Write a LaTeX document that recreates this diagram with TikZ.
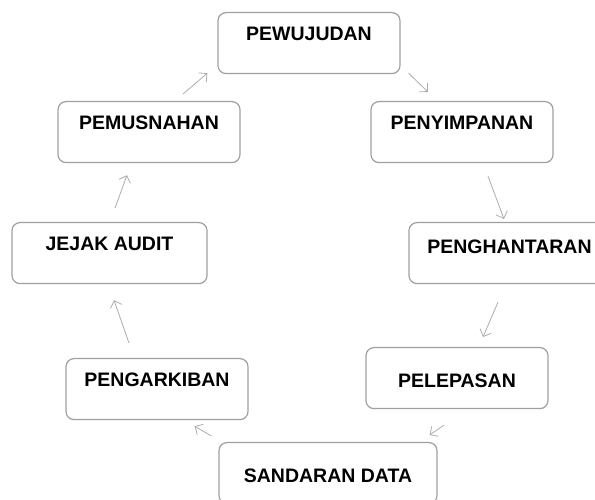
\documentclass[tikz,border=0pt]{standalone}
\usepackage{fontspec}
\setmainfont{Liberation Sans}
\usetikzlibrary{arrows.meta}
\begin{document}
\begin{tikzpicture}[x=1pt,y=1pt,
  tahap/.style={draw=gray!75, line width=1.2pt, rounded corners=8pt, anchor=north,
    inner xsep=0pt, inner ysep=0pt, text height=28pt, text depth=33pt,
    font=\fontsize{19.5}{20}\selectfont\bfseries, minimum width=182pt},
  rendah/.style={text height=40pt, text depth=21pt},
  aliran/.style={draw=gray!65, line width=0.8pt, -{Straight Barb[length=6pt,width=12pt]}}]

\useasboundingbox (0,0) rectangle (595,500);

\node[tahap] (pewujudan) at (309,488) {PEWUJUDAN};
\node[tahap] (penyimpanan) at (462,399) {PENYIMPANAN};
\node[tahap, minimum width=201pt, text height=31pt, text depth=30pt] (penghantaran) at (509.5,278) {PENGHANTARAN};
\node[tahap, rendah] (pelepasan) at (457,153) {PELEPASAN};
\node[tahap, rendah, minimum width=218pt] (sandaran) at (328,58) {SANDARAN DATA};
\node[tahap] (pengarkiban) at (157,142) {PENGARKIBAN};
\node[tahap, minimum width=195pt] (jejak) at (109.5,278) {JEJAK AUDIT};
\node[tahap] (pemusnahan) at (149,399) {PEMUSNAHAN};


\draw[aliran] ([xshift=34pt,yshift=7pt]pemusnahan.north) -- ([xshift=-10pt,yshift=1pt]pewujudan.south west);
\draw[aliran] ([xshift=8pt,yshift=1pt]pewujudan.south east) -- ([xshift=-34pt,yshift=9pt]penyimpanan.north);
\draw[aliran] ([xshift=26pt,yshift=-13pt]penyimpanan.south) -- ([xshift=-5.5pt,yshift=3pt]penghantaran.north);
\draw[aliran] ([xshift=-11.5pt,yshift=-18pt]penghantaran.south) -- ([xshift=26pt,yshift=10pt]pelepasan.north);
\draw[aliran] ([xshift=-13pt,yshift=-16pt]pelepasan.south) -- ([xshift=-8pt,yshift=7pt]sandaran.north east);
\draw[aliran] ([xshift=-7pt,yshift=6pt]sandaran.north west) -- ([xshift=-54pt,yshift=-6pt]pengarkiban.south east);
\draw[aliran] ([xshift=-28pt,yshift=15pt]pengarkiban.north) -- ([xshift=4.5pt,yshift=-16pt]jejak.south);
\draw[aliran] ([xshift=5.5pt,yshift=14pt]jejak.north) -- ([xshift=-22pt,yshift=-12pt]pemusnahan.south);

\end{tikzpicture}
\end{document}
